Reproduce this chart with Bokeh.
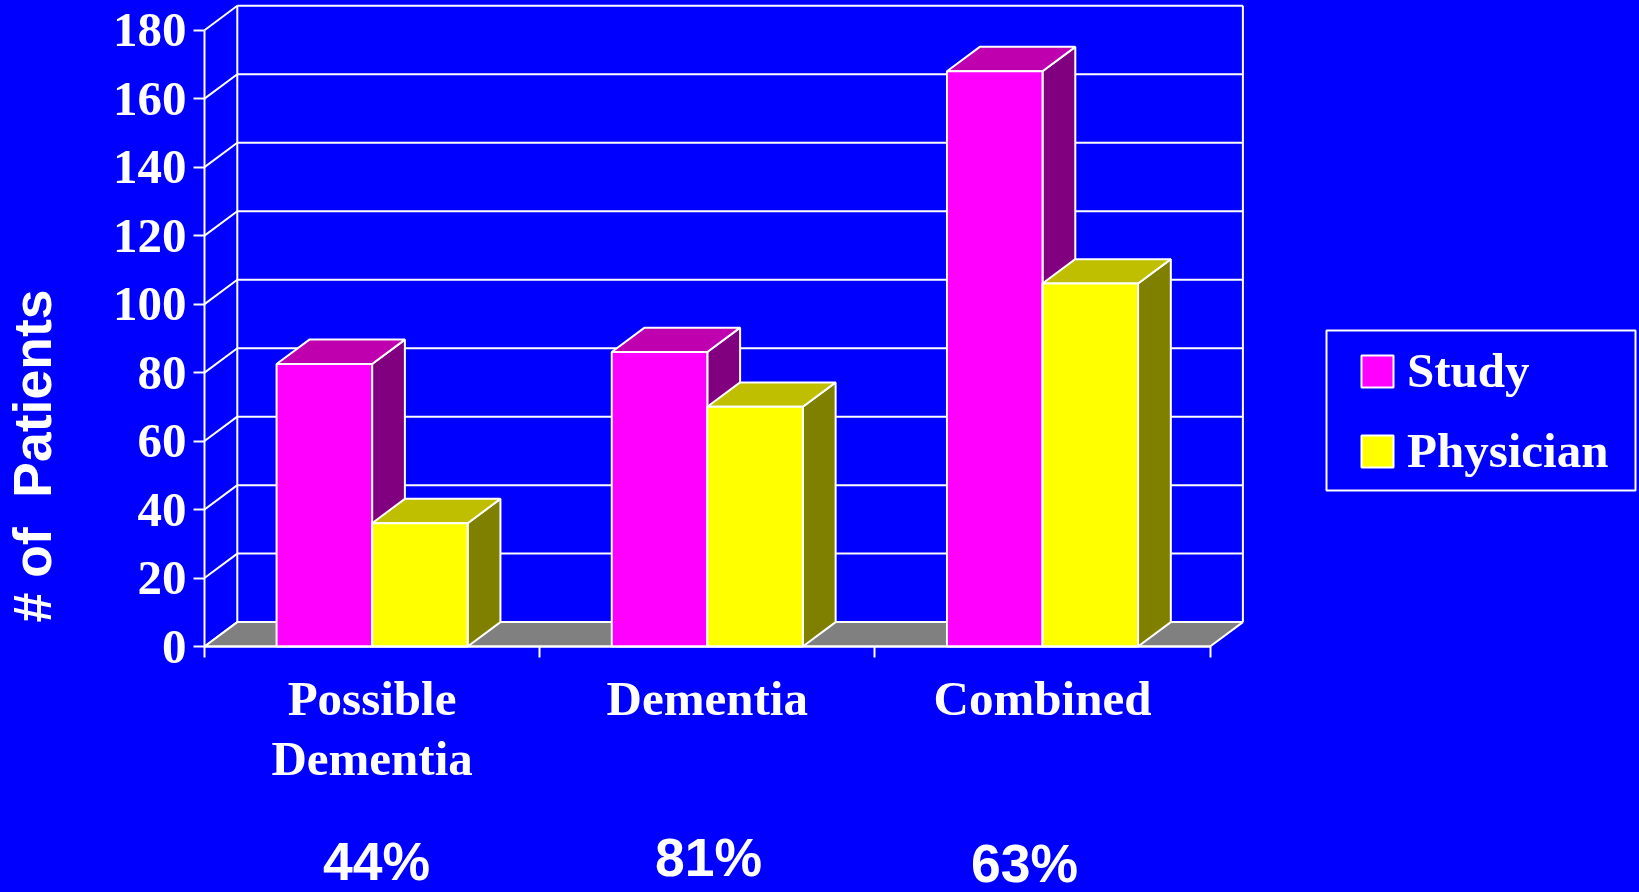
from math import pi
from bokeh.plotting import figure
from bokeh.embed import file_html
from bokeh.resources import INLINE
from bokeh.models import (Range1d, LinearAxis, FixedTicker, Label, Legend, LegendItem,
                          BoxAnnotation)

categories = [["Possible", "Dementia"], ["Dementia"], ["Combined"]]
study = [82.5, 86, 168]
physician = [36, 70, 106]
y_ticks = [0, 20, 40, 60, 80, 100, 120, 140, 160, 180]
percents = ["44%", "81%", "63%"]

BG = "#0000FF"
WHITE = "#FFFFFF"
UX = 335.2      # px per category
UY = 3.424      # px per patient
DX = 32.8 / UX  # depth of the 3D box, data units
DY = 24.4 / UY
BW = 0.285
LEFT, BOTTOM = 204, 646
W, H = 1639, 892
SERIF = "49px"
SANS = "53.5px"


def sx(px):
    return (px - LEFT) / UX


def sy(py):
    return (BOTTOM - py) / UY


p = figure(width=W, height=H, output_backend="svg", toolbar_location=None,
           x_range=Range1d(sx(0), sx(W)), y_range=Range1d(sy(H), sy(0)),
           x_axis_type=None, y_axis_type=None, min_border=0,
           background_fill_color=BG, border_fill_color=BG, outline_line_color=None)
p.grid.visible = False

n = len(categories)
# walls
back_levels = y_ticks
p.multi_line([[DX, n + DX] for v in back_levels], [[v + DY, v + DY] for v in back_levels],
             line_color=WHITE, line_width=2)
p.multi_line([[0, DX] for v in back_levels], [[v, v + DY] for v in back_levels],
             line_color=WHITE, line_width=2)
p.multi_line([[DX, DX], [n + DX, n + DX]], [[DY, y_ticks[-1] + DY]] * 2,
             line_color=WHITE, line_width=2)
# floor
p.patch([0, DX, n + DX, n], [0, DY, DY, 0], fill_color="#808080", line_color=WHITE, line_width=2)


def bars(values, offset, front, top, side):
    left = [i + 0.5 + offset for i in range(n)]
    right = [x + BW for x in left]
    p.patches([[r, r + DX, r + DX, r] for r in right],
              [[0, DY, v + DY, v] for v in values],
              fill_color=side, line_color=WHITE, line_width=2)
    p.patches([[l, l + DX, r + DX, r] for l, r in zip(left, right)],
              [[v, v + DY, v + DY, v] for v in values],
              fill_color=top, line_color=WHITE, line_width=2)
    return p.quad(left=left, right=right, bottom=[0] * n, top=values,
                  fill_color=front, line_color=WHITE, line_width=2)


r_study = bars(study, -BW, "#FF00FF", "#BF00AF", "#800080")
r_phys = bars(physician, 0, "#FFFF00", "#BFBF00", "#808000")

# axes, fixed inside the page-sized frame
yaxis = LinearAxis(ticker=FixedTicker(ticks=y_ticks), bounds=(0, y_ticks[-1]), fixed_location=0,
                   axis_line_color=WHITE, axis_line_width=2,
                   major_tick_line_color=WHITE, major_tick_line_width=2,
                   major_tick_in=0, major_tick_out=11, minor_tick_line_color=None,
                   major_label_standoff=7, major_label_text_color=WHITE,
                   major_label_text_font="Liberation Serif", major_label_text_font_style="bold",
                   major_label_text_font_size=SERIF)
p.add_layout(yaxis, "left")

xaxis = LinearAxis(ticker=FixedTicker(ticks=[i + 0.5 for i in range(n)],
                                      minor_ticks=list(range(n + 1))),
                   bounds=(0, n), fixed_location=0,
                   major_label_overrides={i + 0.5: c[0] for i, c in enumerate(categories)},
                   axis_line_color=WHITE, axis_line_width=2,
                   major_tick_line_color=None, major_tick_in=0, major_tick_out=0,
                   minor_tick_line_color=WHITE, minor_tick_line_width=2,
                   minor_tick_in=0, minor_tick_out=11,
                   major_label_standoff=13, major_label_text_color=WHITE,
                   major_label_text_font="Liberation Serif", major_label_text_font_style="bold",
                   major_label_text_font_size=SERIF)
p.add_layout(xaxis, "below")

# second line of a wrapped category label
for i, c in enumerate(categories):
    for line in c[1:]:
        p.add_layout(Label(x=i + 0.5, y=sy(758), text=line, text_color=WHITE,
                           text_font="Liberation Serif", text_font_style="bold",
                           text_font_size=SERIF, text_align="center", text_baseline="middle"))

# y title
p.add_layout(Label(x=sx(31.5), y=sy(455.5), text="# of\u00a0\u00a0Patients", angle=pi / 2,
                   text_color=WHITE, text_font="Liberation Sans", text_font_style="bold",
                   text_font_size=SANS, text_align="center", text_baseline="alphabetic"))

# percentages
pct_x = [376, 708, 1024]
pct_y = [861, 857, 863]
for t, px, py in zip(percents, pct_x, pct_y):
    p.add_layout(Label(x=sx(px), y=sy(py), text=t, text_color=WHITE,
                       text_font="Liberation Sans", text_font_style="bold",
                       text_font_size=SANS, text_align="center",
                       text_baseline="alphabetic"))

# legend
p.add_layout(BoxAnnotation(left=1326, right=1635, top=330, bottom=490,
                           left_units="canvas", right_units="canvas",
                           top_units="canvas", bottom_units="canvas",
                           fill_alpha=0, line_color=WHITE, line_alpha=1, line_width=2))
legend = Legend(items=[LegendItem(label="Study", renderers=[r_study]),
                       LegendItem(label="Physician", renderers=[r_phys])],
                location=(1357, H - 479), orientation="vertical",
                background_fill_alpha=0, border_line_alpha=0,
                padding=0, margin=0, spacing=23, glyph_width=40, glyph_height=40,
                label_height=32, label_standoff=10, label_text_color=WHITE,
                label_text_font="Liberation Serif", label_text_font_style="bold",
                label_text_font_size=SERIF, label_text_baseline="middle")
p.add_layout(legend, "center")

html = file_html(p, INLINE)
html = html.replace("<body>", '<body style="margin:0;background:#0000FF;overflow:hidden">')
open("out.html", "w").write(html)
